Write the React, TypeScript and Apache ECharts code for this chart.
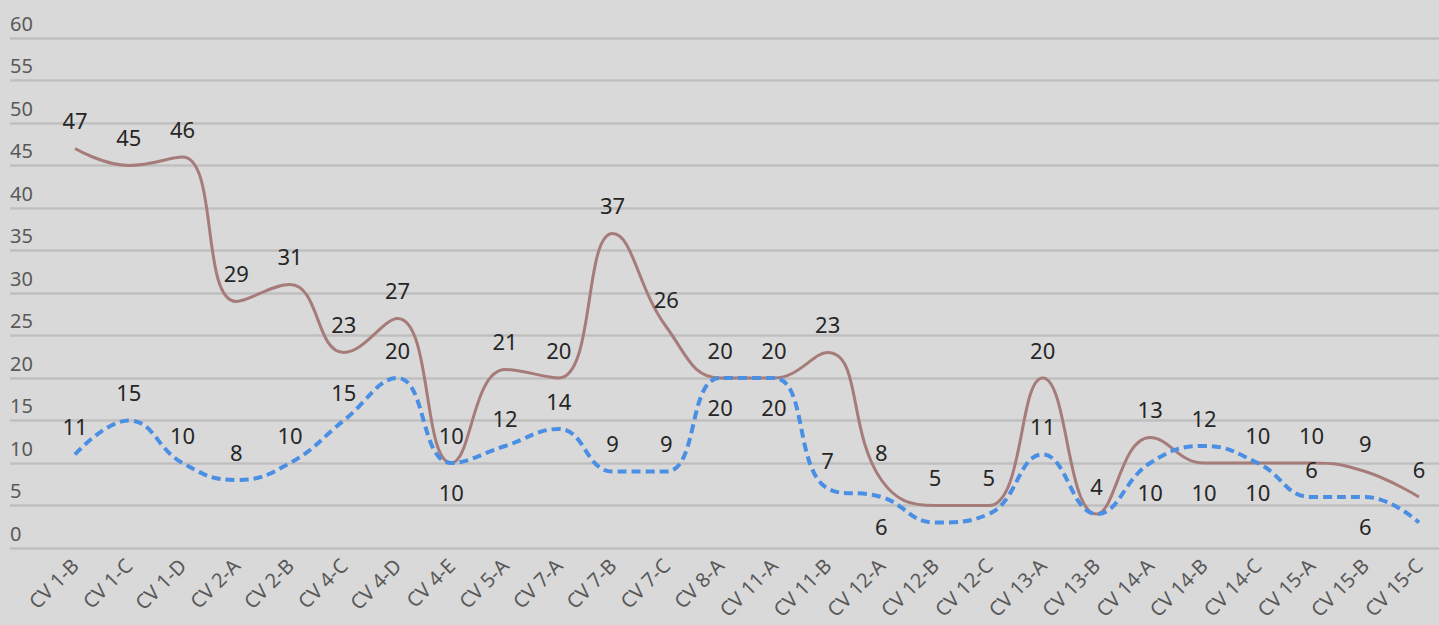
import React, { useEffect, useRef } from "react";
import * as echarts from "echarts";

const categories = [
  "CV 1-B", "CV 1-C", "CV 1-D", "CV 2-A", "CV 2-B", "CV 4-C", "CV 4-D", "CV 4-E",
  "CV 5-A", "CV 7-A", "CV 7-B", "CV 7-C", "CV 8-A", "CV 11-A", "CV 11-B", "CV 12-A",
  "CV 12-B", "CV 12-C", "CV 13-A", "CV 13-B", "CV 14-A", "CV 14-B", "CV 14-C",
  "CV 15-A", "CV 15-B", "CV 15-C",
];
const brownValues = [47, 45, 46, 29, 31, 23, 27, 10, 21, 20, 37, 26, 20, 20, 23, 8, 5, 5, 20, 4, 13, 10, 10, 10, 9, 6];
const blueValues = [11, 15, 10, 8, 10, 15, 20, 10, 12, 14, 9, 9, 20, 20, 7, 6, 3, 4, 11, 4, 10, 12, 10, 6, 6, 3];
const brownBelow = [21];
const blueBelow = [7, 12, 13, 15, 20, 22, 24];
const blueHidden = [16, 17, 19, 25];
const yTicks = { min: 0, max: 60, interval: 5 };

const FONT = "Noto Sans";

export default function App() {
  const ref = useRef<HTMLDivElement>(null);
  useEffect(() => {
    if (!ref.current) return;
    const chart = echarts.init(ref.current, undefined, { renderer: "svg" });
    const labelBase = {
      show: true,
      fontFamily: FONT,
      fontSize: 22,
      color: "#262626",
      distance: 17,
    };
    chart.setOption({
      animation: false,
      backgroundColor: "#d9d9d9",
      grid: [
        { left: 10, right: 0, top: 38, bottom: 77 },
        { left: 75, right: 20, top: 38, bottom: 77 },
      ],
      xAxis: [
        { gridIndex: 0, type: "value", show: false, min: 0, max: 1 },
        {
          gridIndex: 1,
          type: "category",
          data: categories,
          boundaryGap: false,
          axisLine: { show: false },
          axisTick: { show: false },
          axisLabel: {
            rotate: 45,
            margin: 14,
            interval: 0,
            fontFamily: FONT,
            fontSize: 20,
            color: "#595959",
          },
        },
      ],
      yAxis: [
        {
          gridIndex: 0,
          type: "value",
          min: yTicks.min,
          max: yTicks.max,
          interval: yTicks.interval,
          axisLine: { show: false },
          axisTick: { show: false },
          splitLine: { lineStyle: { color: "#bfbfbf", width: 2.5 } },
          axisLabel: {
            inside: true,
            align: "left",
            verticalAlign: "bottom",
            padding: [0, 0, 5, 0],
            margin: 0,
            fontFamily: FONT,
            fontSize: 20,
            color: "#595959",
          },
        },
        {
          gridIndex: 1,
          type: "value",
          min: yTicks.min,
          max: yTicks.max,
          interval: yTicks.interval,
          show: false,
          splitLine: { show: false },
        },
      ],
      series: [
        {
          type: "line",
          name: "A",
          xAxisIndex: 1,
          yAxisIndex: 1,
          smooth: 0.45,
          symbol: "circle",
          symbolSize: 1,
          showSymbol: true,
          itemStyle: { color: "rgba(0,0,0,0)" },
          lineStyle: { color: "#a67c7a", width: 3 },
          data: brownValues.map((v, i) => ({
            value: v,
            label: { ...labelBase, position: brownBelow.includes(i) ? "bottom" : "top" },
          })),
          z: 3,
        },
        {
          type: "line",
          name: "B",
          xAxisIndex: 1,
          yAxisIndex: 1,
          smooth: 0.45,
          symbol: "circle",
          symbolSize: 1,
          showSymbol: true,
          itemStyle: { color: "rgba(0,0,0,0)" },
          lineStyle: { color: "#4a8fe3", width: 4, type: [9, 5] },
          data: blueValues.map((v, i) => ({
            value: v,
            label: {
              ...labelBase,
              show: !blueHidden.includes(i),
              position: blueBelow.includes(i) ? "bottom" : "top",
            },
          })),
          z: 4,
        },
      ],
    });
    return () => chart.dispose();
  }, []);
  return (
    <div
      ref={ref}
      style={{ position: "absolute", left: 0, top: 0, width: 1439, height: 625 }}
    />
  );
}
